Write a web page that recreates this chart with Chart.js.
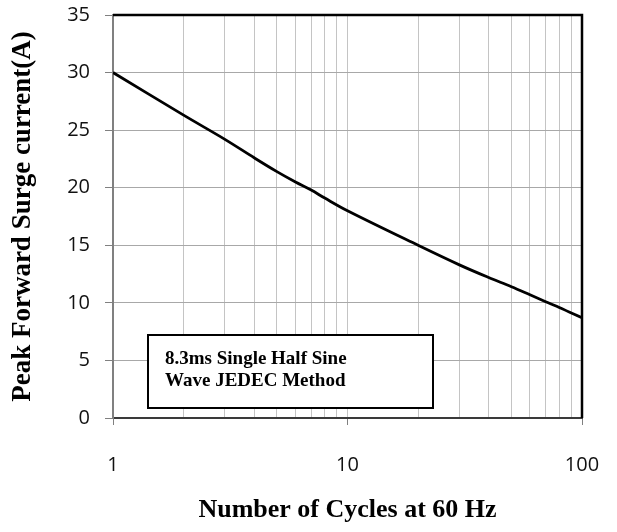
<!DOCTYPE html>
<html>
<head>
<meta charset="utf-8">
<script src="https://cdn.jsdelivr.net/npm/chart.js@4.4.1/dist/chart.umd.min.js"></script>
<style>
  html, body { margin: 0; padding: 0; background: #fff; }
  #wrap { width: 617px; height: 532px; position: relative; }
</style>
</head>
<body>
<div id="wrap"><canvas id="surgeChart"></canvas></div>
<script>
// cycles (x, log) and peak surge current (y)
const cycles = [1, 2, 3, 4, 5, 6, 7, 8, 10, 20, 30, 40, 50, 60, 70, 80, 100];
const surgeAmps = [30, 26.3, 24.2, 22.6, 21.4, 20.5, 19.8, 19.1, 18.0, 15.0, 13.3, 12.2, 11.4, 10.7, 10.1, 9.6, 8.7];
const xLabels = [1, 10, 100];
const noteLines = ["8.3ms Single Half Sine", "Wave JEDEC Method"];

const serif = "'Liberation Serif', 'Times New Roman', serif";
const sans = "'Open Sans', 'Liberation Sans', sans-serif";

// black frame on top and right of plot area
const framePlugin = {
  id: "frame",
  afterDraw(chart) {
    const { ctx, chartArea: a } = chart;
    ctx.save();
    ctx.strokeStyle = "#000";
    ctx.lineWidth = 2.5;
    ctx.beginPath();
    ctx.moveTo(a.left, a.top);
    ctx.lineTo(a.right, a.top);
    ctx.lineTo(a.right, a.bottom);
    ctx.stroke();
    ctx.restore();
  },
};

// text box in lower-left of plot
const notePlugin = {
  id: "note",
  afterDraw(chart) {
    const { ctx, chartArea: a } = chart;
    const x = a.left + 35;
    const y = a.bottom - 83;
    const w = 285;
    const h = 73;
    ctx.save();
    ctx.fillStyle = "#fff";
    ctx.fillRect(x, y, w, h);
    ctx.strokeStyle = "#000";
    ctx.lineWidth = 2;
    ctx.strokeRect(x, y, w, h);
    ctx.fillStyle = "#000";
    ctx.font = "bold 19px " + serif;
    ctx.textBaseline = "middle";
    noteLines.forEach((line, i) => {
      ctx.fillText(line, x + 17, y + 24 + i * 22);
    });
    ctx.restore();
  },
};

new Chart(document.getElementById("surgeChart"), {
  type: "line",
  data: {
    datasets: [{
      data: cycles.map((c, i) => ({ x: c, y: surgeAmps[i] })),
      borderColor: "#000",
      borderWidth: 2.8,
      pointRadius: 0,
      tension: 0.35,
      fill: false,
    }],
  },
  options: {
    responsive: true,
    maintainAspectRatio: false,
    animation: false,
    layout: { padding: { top: 15, right: 35, left: 0, bottom: 0 } },
    plugins: { legend: { display: false }, tooltip: { enabled: false } },
    scales: {
      x: {
        type: "logarithmic",
        min: 1,
        max: 100,
        afterFit: (s) => {
          s.height = 114;
          s.paddingLeft = 0;
          s.paddingRight = 0;
        },
        afterBuildTicks: (s) => {
          const t = [];
          for (let d = 1; d < 100; d *= 10) {
            for (let k = 1; k < 10; k++) t.push({ value: d * k });
          }
          t.push({ value: 100 });
          s.ticks = t;
        },
        grid: {
          color: "#c4c4c4",
          lineWidth: 1,
          tickLength: 7,
          tickColor: (c) => (xLabels.includes(c.tick && c.tick.value) ? "#808080" : "rgba(0,0,0,0)"),
        },
        border: { color: "#3a3a3a", width: 2 },
        ticks: {
          autoSkip: false,
          maxRotation: 0,
          padding: 28,
          color: "#111",
          font: { family: sans, size: 20 },
          callback: (v) => (xLabels.includes(v) ? String(v) : ""),
        },
        title: {
          display: true,
          text: "Number of Cycles at 60 Hz",
          color: "#000",
          font: { family: serif, size: 26, weight: "bold" },
          padding: { top: 6, bottom: 6 },
        },
      },
      y: {
        min: 0,
        max: 35,
        afterFit: (s) => {
          s.width = 113;
          s.paddingTop = 0;
          s.paddingBottom = 0;
        },
        grid: { color: "#a8a8a8", lineWidth: 1, tickLength: 8, tickColor: "#808080" },
        border: { color: "#808080", width: 2 },
        ticks: {
          stepSize: 5,
          padding: 15,
          color: "#111",
          font: { family: sans, size: 20 },
        },
        title: {
          display: true,
          text: "Peak Forward Surge current(A)",
          color: "#000",
          font: { family: serif, size: 27, weight: "bold" },
          padding: { top: 7, bottom: 7 },
        },
      },
    },
  },
  plugins: [framePlugin, notePlugin],
});
</script>
</body>
</html>
